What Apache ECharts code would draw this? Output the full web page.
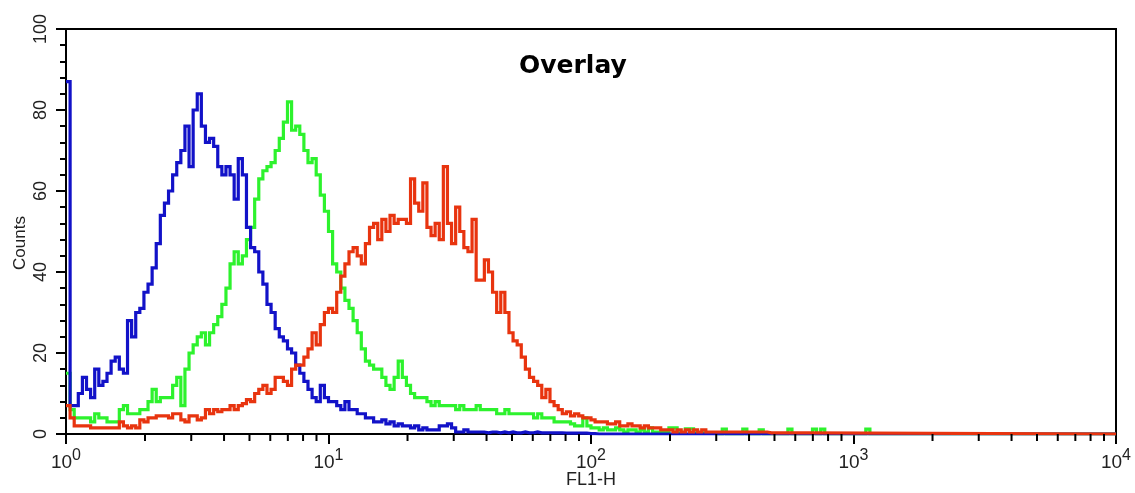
<!DOCTYPE html>
<html>
<head>
<meta charset="utf-8">
<script src="https://cdn.jsdelivr.net/npm/echarts@6/dist/echarts.min.js"></script>
<style>
html,body{margin:0;padding:0;background:#fff;}
#chart{width:1135px;height:493px;}
</style>
</head>
<body>
<div id="chart"></div>
<script>
// Histogram channels: 64 channels per decade on the FL1-H log scale
const CHANNELS_PER_DECADE = 64;
const xMin = 1, xMax = 10000;
const yTicks = [0, 20, 40, 60, 80, 100];
const xMinorTicks = [2,3,4,5,6,7,8,9,20,30,40,50,60,70,80,90,200,300,400,500,600,700,800,900,2000,3000,4000,5000,6000,7000,8000,9000];

const blueCounts = [87,7,7,10,14,11,9,16,12,13,
15,18,19,16,15,28,24,30,31,35,
37,41,47,54,57,60,64,67,70,76,
66,80,84,76,72,73,71,66,64,66,
64,58,68,64,51,46,45,40,37,32,
30,26,24,23,21,20,17,15,13,11,
9,8,12,9,8,8,7,6,8,6,
6,5,5,4,4,3,3,3.5,2.5,3,
2,2.5,2,2,1.5,2,1,1.5,1,1,
1,2,2,2.5,1.5,0.5,0.5,1,0.5,0.5,
0.5,0.5,0.3,0.5,0.5,0.3,0.5,0.3,0.5,0.3,
0.3,0.5,0.3,0.3,0.5,0.3,0.3,0.3,0.3,0.3,
0.3,0.2,0.2,0.2,0.2,0.2,0.2,0.1,0.1,0,0];

const greenCounts = [15,6,4,4,4,4,3,5,4,4,
3,3,3,6,7,5,5,5,6,6,
8,11,8,9,9,9,12,14,7,16,
20,22,24,25,22,25,27,29,32,36,
42,45,42,44,48,51,58,63,65,66,
67,70,73,77,82,75,76,74,70,67,
68,64,59,55,50,42,40,36,33,31,
28,25,21,18,17,16,16,14,12,11,
14,18,14,12,10,9,9,9,8,7,
8,7,7,7,7,6,7,6,6,6,
7,6,6,6,6,5,5,6,5,5,
5,5,5,5,4,5,4,4,4,3,
3,3,3,2.5,2,2,4,2,1.5,1.5,
1,1.5,1,1,1.5,1,0.5,1,1,0.5,
1,0.5,1.5,0.5,0.5,0.5,0.3,1.5,1.5,0.3,
0.3,1.3,1.3,0.3,0.3,0.3,0.3,0.3,0,0,
1.2,0,0,0,0,1.2,0,0,0,1,
0,0,0,0,0,0,1.2,0,0,0,
0,0,1.2,0,1.2,0,0,0,0,0,
0,0,0,0,0,1.2,0];

const redCounts = [7,4,2,2,2,2,1.5,1.5,1.5,1.5,
1.5,1.5,1.5,3,2,1.5,2,1.5,3.5,3,
4,4,4.5,4.5,4.5,4,5,5,3.5,3,
4.5,4.5,3.5,4,6,5,6,5.5,6,6,
7,6,7,7.5,8.5,8,10,11,12,10,
11,14,14,13,12,16,17,17,19,21,
25,22,27,30,31,30,35,39,42,45,
46,44,42,47,51,52,48,53,50,54,
52,53,53,52,63,57,55,62,51,49,
52,48,66,52,47,56,50,46,45,53,
38,38,43,40,35,30,35,30,25,23,
22,19,16,14,13,12,9,11,8,7,
6,5,5.5,4.5,5,4.5,4,4,3.5,3,
3,3,2.5,2.5,3,2,2,2.5,2,2,
1.5,2,1.5,1.5,1.5,1,1,1,0.5,1,
0.5,1,0.5,1,0.5,1,0.5,0.5,0.5,0.5,
0.5,0.5,0.5,0.5,0.5,0.5,0.5,0.5,0.5,0.5,
0.5,0.3,0.3,0.3,0.3,0.3,0.3,0.3,0.3,0.3,
0.3,0];

function toPairs(counts){
  const pts = counts.map((c, i) => [Math.pow(10, i / CHANNELS_PER_DECADE), c]);
  pts.push([xMax, 0]);
  return pts;
}

const FONT = '"Liberation Sans", Arial, Helvetica, sans-serif';
const chart = echarts.init(document.getElementById('chart'), null, {renderer: 'canvas'});

function lineSeries(name, counts, color){
  return {
    name, type: 'line', step: 'end', data: toPairs(counts),
    showSymbol: false, symbol: 'none', silent: true, animation: false,
    lineStyle: {color, width: 3.2, join: 'miter'}
  };
}

chart.setOption({
  animation: false,
  backgroundColor: '#fff',
  title: {
    text: 'Overlay', left: 514, top: 49,
    textStyle: {fontFamily: '"DejaVu Sans", sans-serif', fontWeight: 'bold', fontSize: 25, color: '#000'}
  },
  graphic: [{
    type: 'text', x: 12, y: 243, rotation: Math.PI / 2, silent: true,
    style: {text: 'Counts', fontFamily: FONT, fontSize: 17, fill: '#222', align: 'center', verticalAlign: 'top'}
  }],
  grid: {left: 66, right: 19, top: 29, bottom: 59, containLabel: false, outerBoundsMode: 'none',
         show: true, borderColor: '#000', borderWidth: 2, backgroundColor: 'transparent'},
  xAxis: {
    type: 'log', logBase: 10, min: xMin, max: xMax,
    name: 'FL1-H', nameLocation: 'middle', nameGap: 37, nameMoveOverlap: false,
    nameTextStyle: {fontFamily: FONT, fontSize: 18, color: '#222'},
    axisLine: {lineStyle: {color: '#000', width: 2}},
    axisTick: {show: true, length: 10, lineStyle: {color: '#000', width: 2}},
    splitLine: {show: false},
    axisLabel: {
      margin: 14, color: '#222',
      formatter: v => '{b|10}{s|' + Math.round(Math.log10(v)) + '}',
      rich: {
        b: {fontFamily: FONT, fontSize: 19, color: '#222', lineHeight: 24, verticalAlign: 'bottom'},
        s: {fontFamily: FONT, fontSize: 16, color: '#222', lineHeight: 24, verticalAlign: 'top'}
      }
    }
  },
  yAxis: {
    type: 'value', min: yTicks[0], max: yTicks[yTicks.length - 1], interval: 20,
    axisLine: {show: true, lineStyle: {color: '#000', width: 2}},
    axisTick: {show: true, length: 10, lineStyle: {color: '#000', width: 2}},
    minorTick: {show: true, splitNumber: 5, length: 6, lineStyle: {color: '#000', width: 2}},
    splitLine: {show: false},
    axisLabel: {rotate: 90, margin: 16, fontFamily: FONT, fontSize: 18, color: '#222'}
  },
  series: [
    lineSeries('Green', greenCounts, '#2df22d'),
    lineSeries('Blue', blueCounts, '#1212c8'),
    lineSeries('Red', redCounts, '#e8340f'),
    {
      type: 'custom', silent: true, clip: false, z: 5,
      data: xMinorTicks.map(v => [v, 0]),
      renderItem: (params, api) => {
        const p = api.coord([api.value(0), 0]);
        return {type: 'line', shape: {x1: p[0], y1: p[1], x2: p[0], y2: p[1] + 7}, style: {stroke: '#000', lineWidth: 2}};
      }
    }
  ]
});
</script>
</body>
</html>
